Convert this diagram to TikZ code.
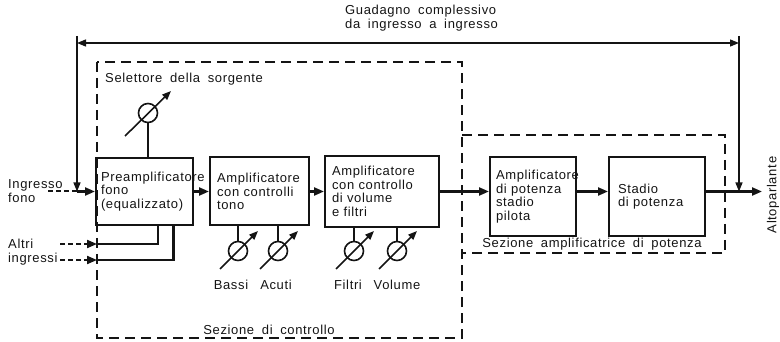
\documentclass[tikz,border=0pt]{standalone}
\usepackage{fontspec}
\setmainfont{Liberation Sans}[LetterSpace=5,WordSpace=1.8]
\usepackage{tikz}
\usetikzlibrary{
  arrows.meta,
  positioning
}
\definecolor{inkcolor}{RGB}{20,20,20}

\begin{document}
\begin{tikzpicture}[
    x=1pt, y=-1pt,
    color=inkcolor,
    font=\fontsize{13}{13.5}\selectfont,
    blockbox/.style={
      draw, line width=2pt, align=left,
      inner xsep=6pt, inner ysep=0pt
    },
    textlabel/.style={inner sep=0pt, align=left},
    sigline/.style={line width=2.2pt},
    sigarrow/.style={sigline, -{Triangle[length=10pt,width=8pt]}},
    inputdash/.style={line width=2pt, dash pattern=on 5pt off 3pt},
    secdash/.style={line width=1.3pt, dash pattern=on 10pt off 6pt},
    gainline/.style={line width=1.3pt},
    gainarrow/.style={gainline, -{Triangle[length=9pt,width=7pt]}},
    potring/.style={draw, circle, line width=1.6pt, minimum size=19pt, inner sep=0pt},
    potarrow/.style={line width=1.6pt, -{Triangle[length=9pt,width=7pt]}}
  ]
    \useasboundingbox (0,0) rectangle (780,342);

    % Sections
    \draw[secdash] (97,62) rectangle (462,338);
    \draw[secdash] (462,135) -- (725,135) -- (725,253) -- (462,253);
    \node[textlabel] (ctrllab) at (269,330) {Sezione di controllo};
    \node[textlabel] (powlab) at (592,244) {Sezione amplificatrice di potenza};
    \node[textlabel, anchor=west] (sellab) at (105,79) {Selettore della sorgente};

    % Stages
    \node[blockbox, text width=87pt, inner xsep=5pt, minimum height=67pt] (pre) at (144.5,191.5)
      {Preamplificatore\\fono\\(equalizzato)};
    \node[blockbox, text width=85pt, inner xsep=7pt, minimum height=68pt, right=15pt of pre] (tono)
      {Amplificatore\\con controlli\\tono};
    \node[blockbox, text width=100pt, inner xsep=7pt, minimum height=71pt, right=14pt of tono] (vol)
      {Amplificatore\\con controllo\\di volume\\e filtri};
    \node[blockbox, text width=74pt, minimum height=79pt, right=49pt of vol, yshift=-5pt] (pilota)
      {Amplificatore\\di potenza\\stadio\\pilota};
    \node[blockbox, text width=78pt, inner xsep=9pt, minimum height=79pt, right=31pt of pilota] (stadio)
      {Stadio\\di potenza};

    % Inputs
    \node[textlabel, anchor=west] (fonolab) at (8,191) {Ingresso\\fono};
    \node[textlabel, anchor=west] (altrilab) at (8,252) {Altri\\ingressi};
    \coordinate (fonoin) at (48,191.5);
    \coordinate (fonojn) at (77,191.5);
    \coordinate (alt1) at (60,244);
    \coordinate (alt1e) at (97,244);
    \coordinate (alt2) at (60,260);
    \coordinate (alt2e) at (97,260);
    \draw[inputdash] (fonoin) -- (fonojn);
    \draw[sigarrow] (fonojn) -- (pre.west);
    \draw[inputdash, -{Triangle[length=10pt,width=8pt]}] (alt1) -- (alt1e);
    \draw[inputdash, -{Triangle[length=10pt,width=8pt]}] (alt2) -- (alt2e);
    \draw[sigline] (alt1e) -| ([xshift=13.5pt]pre.south);
    \draw[sigline] (alt2e) -| ([xshift=29pt]pre.south);

    % Signal chain
    \draw[sigarrow] (pre.east) -- (tono.west);
    \draw[sigarrow] (tono.east) -- (vol.west);
    \draw[sigarrow] (vol.east) -- (vol.east -| pilota.west);
    \draw[sigarrow] (pilota.east |- vol.east) -- (stadio.west |- vol.east);
    \coordinate (outjn) at (739,191.5);
    \coordinate (out) at (762,191.5);
    \draw[sigarrow] (stadio.east |- out) -- (out);
    \node[textlabel, rotate=90] (spklab) at (773,195) {Altoparlante};

    % Overall gain
    \coordinate (gaintopL) at (77,36);
    \coordinate (gaintopR) at (739,36);
    \coordinate (gainL) at (77,43);
    \coordinate (gainR) at (739,43);
    \draw[gainarrow] (gaintopL) -- (fonojn);
    \draw[gainarrow] (gaintopR) -- (outjn);
    \draw[gainline, {Triangle[length=9pt,width=7pt]}-{Triangle[length=9pt,width=7pt]}] (gainL) -- (gainR);
    \node[textlabel, anchor=west] (gainlab) at (345,18) {Guadagno complessivo\\da ingresso a ingresso};

    % Source selector
    \node[potring] (sel) at (148,113) {};
    \draw[line width=1.6pt] (sel.south) -- (sel.south |- pre.north);
    \draw[potarrow] ([shift={(-23,23)}]sel.center) -- ([shift={(23,-22)}]sel.center);

    % Tone, filter and volume controls
    \foreach \nm/\px/\stage/\lx/\lab in {bassi/238/tono/231/Bassi, acuti/278/tono/276/Acuti,
                                         filtri/354/vol/348/Filtri, volume/397/vol/397/Volume} {
      \node[potring] (pot-\nm) at (\px,251) {};
      \draw[line width=1.6pt] (pot-\nm.north) -- (pot-\nm.north |- \stage.south);
      \draw[potarrow] ([shift={(-18,18)}]pot-\nm.center) -- ([shift={(20,-20)}]pot-\nm.center);
      \node[textlabel] (lab-\nm) at (\lx,285) {\lab};
    }

  \end{tikzpicture}
\end{document}
